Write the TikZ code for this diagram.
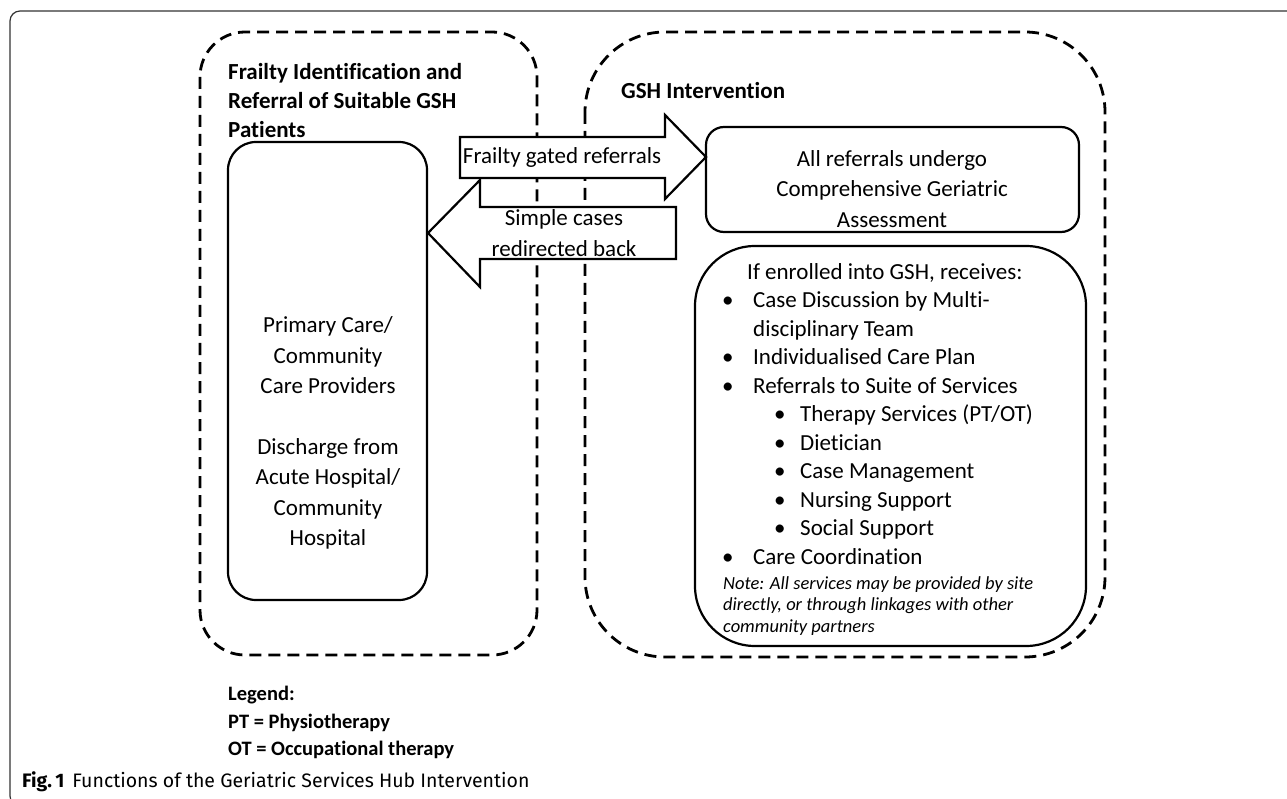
\documentclass[tikz,border=0pt]{standalone}
\usepackage{fontspec}
\setmainfont{Carlito}[Ligatures=NoCommon]
\newfontfamily\capfont{Fira Sans}
\newcommand\bitem{\makebox[31pt][l]{•}}
\newcommand\sbitem{\hspace*{52pt}\makebox[26pt][l]{•}}
\begin{document}
\begin{tikzpicture}[x=1pt,y=-1pt,
  zone/.style={draw=black, line width=2.8pt, dash pattern=on 12pt off 7pt, rounded corners=#1},
  box/.style={draw=black, line width=2.2pt, rounded corners=#1},
  blockarrow/.style={draw=black, line width=2.2pt, fill=white, line join=miter},
  body/.style={font=\fontsize{23}{30.5}\selectfont, inner sep=0pt, align=center},
  heading/.style={font=\fontsize{23}{29}\selectfont\bfseries, inner sep=0pt, align=left},
]
\useasboundingbox (0,0) rectangle (1287,799);

% figure frame
\draw[line width=1.2pt, draw=black!80, rounded corners=10] (1300,11) -- (10,11) -- (10,806) -- (1300,806);

% the two dashed zones
\draw[zone=45] (200,32) rectangle (537,655);
\draw[zone=80] (585,32) rectangle (1105,657);

\node[heading, anchor=north west] (lefttitle) at (228,63)
  {Frailty Identification and\\Referral of Suitable GSH\\Patients};
\node[heading, anchor=north west] (righttitle) at (621,82) {GSH Intervention};

% source box
\draw[box=28] (228,142) rectangle (427,600);
\node[body] (sources) at (328,433)
  {Primary Care/\\Community\\Care Providers\\[30pt]Discharge from\\Acute Hospital/\\Community\\Hospital};

% assessment box
\draw[box=18] (706,127) rectangle (1079,232);
\node[body] (cga) at (892,189)
  {All referrals undergo\\Comprehensive Geriatric\\Assessment};

% services box
\draw[box=60] (695,246) rectangle (1086,646);
\node[anchor=north west, inner sep=0pt, align=left, font=\fontsize{23}{28.5}\selectfont] (services) at (722,263)
  {\hspace*{25pt}If enrolled into GSH, receives:\\
   \bitem Case Discussion by Multi-\\
   \hspace*{31pt}disciplinary Team\\
   \bitem Individualised Care Plan\\
   \bitem Referrals to Suite of Services\\
   \sbitem Therapy Services (PT/OT)\\
   \sbitem Dietician\\
   \sbitem Case Management\\
   \sbitem Nursing Support\\
   \sbitem Social Support\\
   \bitem Care Coordination};
\node[anchor=north west, inner sep=0pt, align=left, font=\fontsize{18.5}{21.5}\selectfont\itshape] (note) at (723,576)
  {Note: All services may be provided by site\\directly, or through linkages with other\\community partners};

% block arrows between the zones
\draw[blockarrow] (460,137) -- (665,137) -- (665,115) -- (706,157) -- (665,199) -- (665,178) -- (460,178) -- cycle;
\node[body] (fwd) at (562,157) {Frailty gated referrals};
\draw[blockarrow] (676,207) -- (480,207) -- (480,180) -- (428,233) -- (480,287) -- (480,259) -- (676,259) -- cycle;
\node[body] (back) at (564,233) {Simple cases\\redirected back};

% legend and caption
\node[anchor=north west, inner sep=0pt, align=left, font=\fontsize{20.5}{27.5}\selectfont\bfseries] (legend) at (228,686)
  {Legend:\\PT = Physiotherapy\\OT = Occupational therapy};
\node[anchor=west, inner sep=0pt, font=\capfont\fontsize{19.5}{23}\selectfont] (caption) at (22,782)
  {\textbf{Fig.\,1}\hspace{8pt}Functions of the Geriatric Services Hub Intervention};
\end{tikzpicture}
\end{document}
